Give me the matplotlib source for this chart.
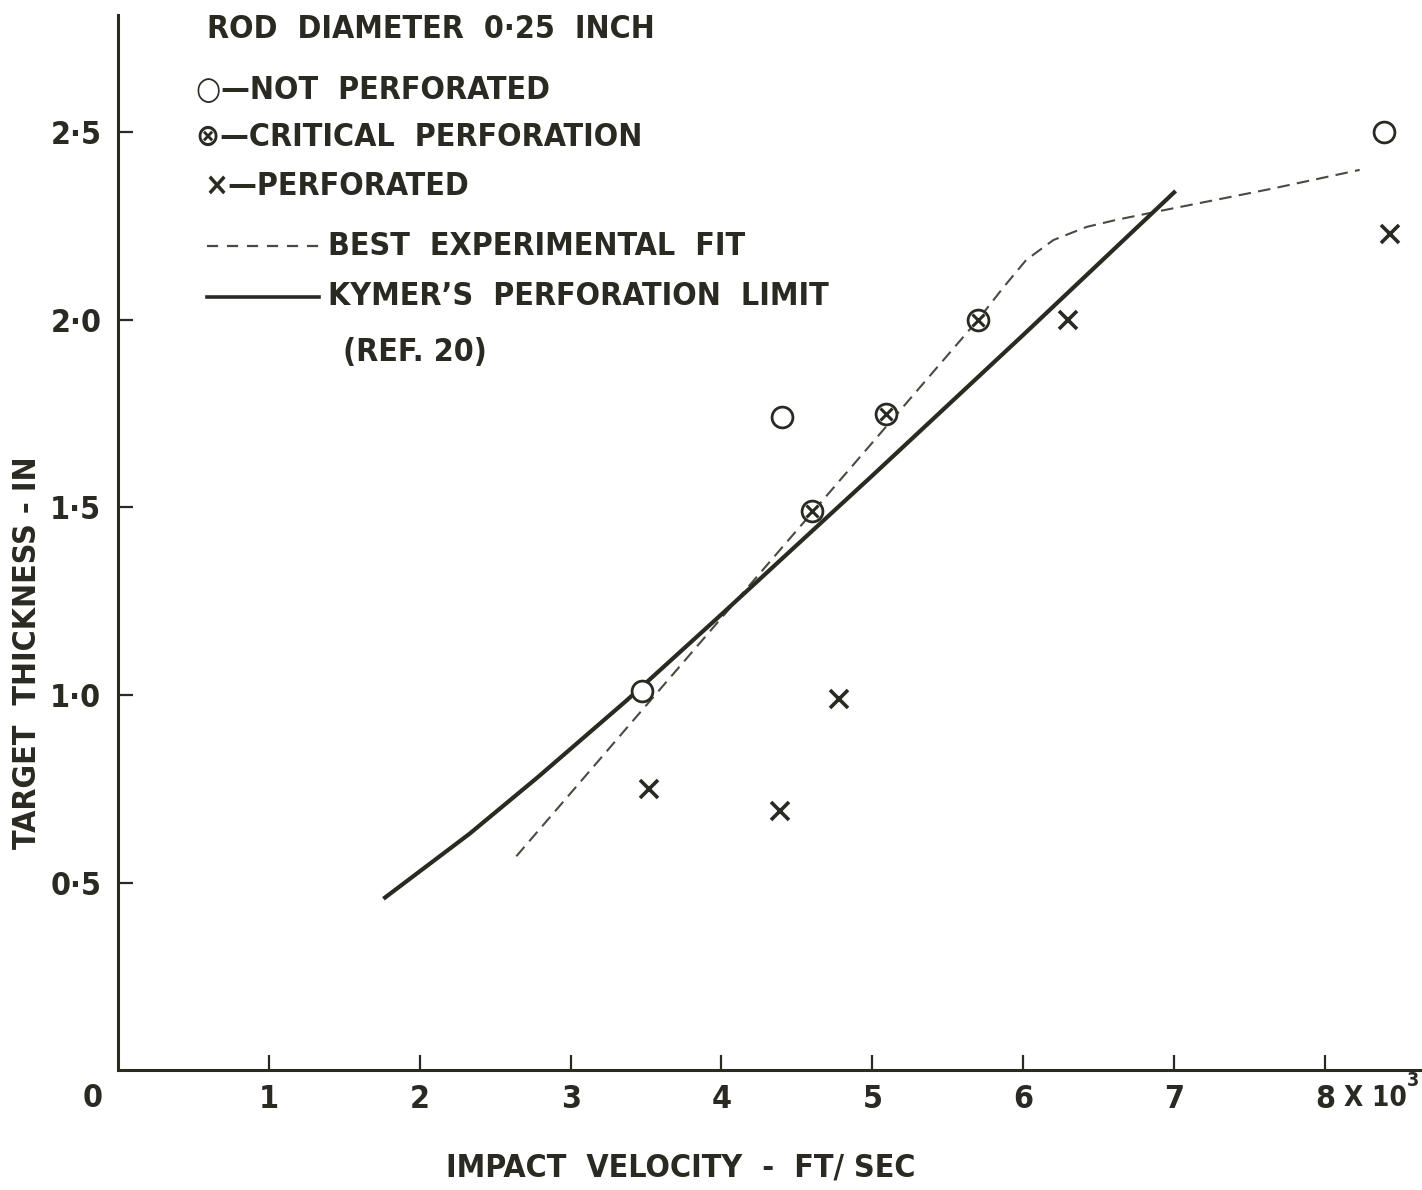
import matplotlib
matplotlib.use("Agg")
import matplotlib.pyplot as plt
from matplotlib.lines import Line2D

INK = "#2a2a22"
FONT = ["DejaVu Sans"]
FS = 23

# data (velocity in 10^3 ft/s, thickness in inches)
not_perf_v = [3.47, 4.40, 8.39]
not_perf_t = [1.01, 1.74, 2.50]

critical_v = [4.60, 5.09, 5.70]
critical_t = [1.49, 1.75, 2.00]

perf_v = [3.52, 4.39, 4.78, 6.30, 8.43]
perf_t = [0.75, 0.69, 0.99, 2.00, 2.23]

fit_v = [2.64, 5.70, 5.865, 6.02, 6.20, 6.42, 6.62, 6.90, 7.65, 8.23]
fit_t = [0.57, 2.00, 2.085, 2.16, 2.213, 2.248, 2.267, 2.29, 2.35, 2.40]

kymer_v = [1.77, 2.33, 2.78, 3.37, 4.00, 5.00, 6.00, 7.00]
kymer_t = [0.46, 0.63, 0.78, 0.985, 1.215, 1.585, 1.96, 2.34]

x_ticks = [1, 2, 3, 4, 5, 6, 7, 8]
x_labels = ["1", "2", "3", "4", "5", "6", "7", "8"]
y_ticks = [0.5, 1.0, 1.5, 2.0, 2.5]
y_labels = ["0·5", "1·0", "1·5", "2·0", "2·5"]

fig = plt.figure(figsize=(14.22, 11.9), dpi=100)
ax = fig.add_axes([0.083, 0.1008, 0.9156, 0.8866])
ax.set_xlim(0, 8.63)
ax.set_ylim(0, 2.813)

for s in ["top", "right"]:
    ax.spines[s].set_visible(False)
for s in ["left", "bottom"]:
    ax.spines[s].set_linewidth(2.2)
    ax.spines[s].set_color(INK)

ax.plot(fit_v, fit_t, color="#4a4a40", linewidth=1.5, linestyle=(0, (6, 3.5)))
ax.plot(kymer_v, kymer_t, color=INK, linewidth=3.0)

ax.plot(not_perf_v, not_perf_t, "o", markersize=15, markerfacecolor="white",
        markeredgecolor=INK, markeredgewidth=2.0, linestyle="none")
ax.plot(critical_v, critical_t, "o", markersize=15, markerfacecolor="white",
        markeredgecolor=INK, markeredgewidth=2.0, linestyle="none")
ax.plot(critical_v, critical_t, "x", markersize=8, markeredgecolor=INK,
        markeredgewidth=2.2, linestyle="none")
ax.plot(perf_v, perf_t, "x", markersize=13, markeredgecolor=INK,
        markeredgewidth=2.6, linestyle="none")

tk = dict(fontsize=FS, fontweight="bold", family=FONT, color=INK, fontstretch="condensed")
ax.set_xticks(x_ticks)
ax.set_xticklabels(x_labels, **tk)
ax.set_yticks(y_ticks)
ax.set_yticklabels(y_labels, **tk)
ax.tick_params(axis="both", direction="in", length=11, width=1.6, color=INK)
ax.tick_params(axis="x", pad=10)
ax.tick_params(axis="y", pad=12)

ax.text(-0.166, -0.075, "0", ha="center", va="center", **tk)
ax.text(8.125, -0.075, "X 10", ha="left", va="center",
        fontsize=20, fontweight="bold", family=FONT, color=INK, fontstretch="condensed")
ax.text(8.545, -0.028, "3", ha="left", va="center", fontsize=14, fontweight="bold",
        family=FONT, color=INK, fontstretch="condensed")

ax.set_xlabel("IMPACT  VELOCITY  -  FT/ SEC", **tk)
ax.xaxis.set_label_coords(0.432, -0.078)
ax.set_ylabel("TARGET  THICKNESS - IN", **tk)
ax.yaxis.set_label_coords(-0.058, 0.396)

# legend block, drawn by hand as in the original
lg = dict(tk, transform=ax.transAxes, va="center", ha="left")
ax.text(0.068, 0.986, "ROD  DIAMETER  0·25  INCH", **lg)
ax.text(0.060, 0.928, "○—NOT  PERFORATED", **lg)
ax.text(0.060, 0.884, "⊗—CRITICAL  PERFORATION", **lg)
ax.text(0.066, 0.837, "×—PERFORATED", **lg)
ax.text(0.161, 0.781, "BEST  EXPERIMENTAL  FIT", **lg)
ax.text(0.161, 0.733, "KYMER’S  PERFORATION  LIMIT", **lg)
ax.text(0.173, 0.680, "(REF. 20)", **lg)
ax.add_line(Line2D([0.068, 0.154], [0.781, 0.781], transform=ax.transAxes,
                   color="#4a4a40", linewidth=1.6, linestyle=(0, (5, 4))))
ax.add_line(Line2D([0.068, 0.154], [0.733, 0.733], transform=ax.transAxes,
                   color=INK, linewidth=2.6))

fig.savefig("out.png", dpi=100, facecolor="white")
